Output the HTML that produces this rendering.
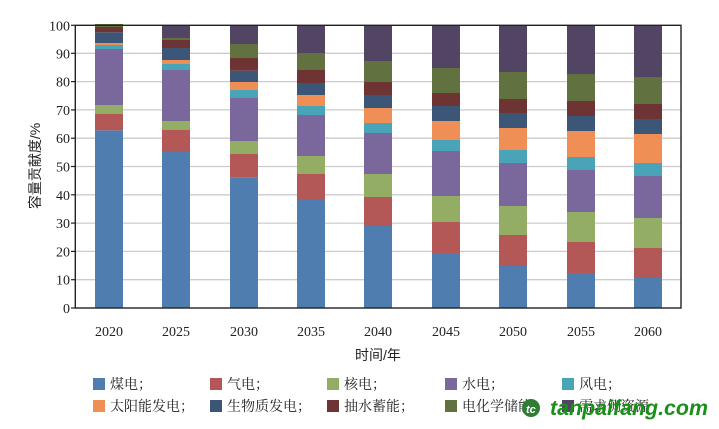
<!DOCTYPE html>
<html><head><meta charset="utf-8"><style>
html,body{margin:0;padding:0;background:#fff;}
svg{display:block;}
.t{font-family:"Liberation Serif","Noto Serif CJK SC",serif;font-size:14px;fill:#222;}
.c{font-family:"Liberation Sans","Noto Sans CJK SC",sans-serif;font-size:14px;fill:#222;}
.l{font-family:"Liberation Serif","Noto Serif CJK SC",serif;font-size:14px;fill:#222;}
</style></head><body>
<svg width="719" height="429" viewBox="0 0 719 429" xmlns="http://www.w3.org/2000/svg">
<rect width="719" height="429" fill="#fff"/>
<!-- gridlines -->
<g stroke="#cccccc" stroke-width="1.3">
<line x1="75" x2="681" y1="279.7" y2="279.7"/>
<line x1="75" x2="681" y1="251.4" y2="251.4"/>
<line x1="75" x2="681" y1="223.1" y2="223.1"/>
<line x1="75" x2="681" y1="194.8" y2="194.8"/>
<line x1="75" x2="681" y1="166.5" y2="166.5"/>
<line x1="75" x2="681" y1="138.2" y2="138.2"/>
<line x1="75" x2="681" y1="109.9" y2="109.9"/>
<line x1="75" x2="681" y1="81.6" y2="81.6"/>
<line x1="75" x2="681" y1="53.3" y2="53.3"/>
</g>
<!-- bars -->
<g>
<!-- 2020 x=95 -->
<rect x="95" y="130.3" width="28" height="177.7" fill="#4F7DB0"/>
<rect x="95" y="114" width="28" height="16.3" fill="#B35757"/>
<rect x="95" y="105" width="28" height="9" fill="#93AE64"/>
<rect x="95" y="49" width="28" height="56" fill="#7A679C"/>
<rect x="95" y="45" width="28" height="4" fill="#49A4B8"/>
<rect x="95" y="43" width="28" height="2" fill="#EF8E55"/>
<rect x="95" y="32.3" width="28" height="10.7" fill="#3B5676"/>
<rect x="95" y="27" width="28" height="5.3" fill="#6E3333"/>
<rect x="95" y="24" width="28" height="3" fill="#617240"/>
<!-- 2025 x=162 -->
<rect x="162" y="151" width="28" height="157" fill="#4F7DB0"/>
<rect x="162" y="130" width="28" height="21" fill="#B35757"/>
<rect x="162" y="121" width="28" height="9" fill="#93AE64"/>
<rect x="162" y="70" width="28" height="51" fill="#7A679C"/>
<rect x="162" y="64" width="28" height="6" fill="#49A4B8"/>
<rect x="162" y="60" width="28" height="4" fill="#EF8E55"/>
<rect x="162" y="48" width="28" height="12" fill="#3B5676"/>
<rect x="162" y="40" width="28" height="8" fill="#6E3333"/>
<rect x="162" y="38" width="28" height="2" fill="#617240"/>
<rect x="162" y="25.3" width="28" height="12.7" fill="#524563"/>
<!-- 2030 x=230 -->
<rect x="230" y="177.3" width="28" height="130.7" fill="#4F7DB0"/>
<rect x="230" y="154" width="28" height="23.3" fill="#B35757"/>
<rect x="230" y="141" width="28" height="13" fill="#93AE64"/>
<rect x="230" y="98" width="28" height="43" fill="#7A679C"/>
<rect x="230" y="90" width="28" height="8" fill="#49A4B8"/>
<rect x="230" y="82" width="28" height="8" fill="#EF8E55"/>
<rect x="230" y="70.7" width="28" height="11.3" fill="#3B5676"/>
<rect x="230" y="58" width="28" height="12.7" fill="#6E3333"/>
<rect x="230" y="44" width="28" height="14" fill="#617240"/>
<rect x="230" y="25.3" width="28" height="18.7" fill="#524563"/>
<!-- 2035 x=297 -->
<rect x="297" y="200" width="28" height="108" fill="#4F7DB0"/>
<rect x="297" y="174" width="28" height="26" fill="#B35757"/>
<rect x="297" y="156" width="28" height="18" fill="#93AE64"/>
<rect x="297" y="115" width="28" height="41" fill="#7A679C"/>
<rect x="297" y="106" width="28" height="9" fill="#49A4B8"/>
<rect x="297" y="95" width="28" height="11" fill="#EF8E55"/>
<rect x="297" y="83" width="28" height="12" fill="#3B5676"/>
<rect x="297" y="70" width="28" height="13" fill="#6E3333"/>
<rect x="297" y="53" width="28" height="17" fill="#617240"/>
<rect x="297" y="25.3" width="28" height="27.7" fill="#524563"/>
<!-- 2040 x=364 -->
<rect x="364" y="226" width="28" height="82" fill="#4F7DB0"/>
<rect x="364" y="197" width="28" height="29" fill="#B35757"/>
<rect x="364" y="174" width="28" height="23" fill="#93AE64"/>
<rect x="364" y="133" width="28" height="41" fill="#7A679C"/>
<rect x="364" y="123" width="28" height="10" fill="#49A4B8"/>
<rect x="364" y="108" width="28" height="15" fill="#EF8E55"/>
<rect x="364" y="95" width="28" height="13" fill="#3B5676"/>
<rect x="364" y="82" width="28" height="13" fill="#6E3333"/>
<rect x="364" y="61" width="28" height="21" fill="#617240"/>
<rect x="364" y="25.3" width="28" height="35.7" fill="#524563"/>
<!-- 2045 x=432 -->
<rect x="432" y="253" width="28" height="55" fill="#4F7DB0"/>
<rect x="432" y="222" width="28" height="31" fill="#B35757"/>
<rect x="432" y="196" width="28" height="26" fill="#93AE64"/>
<rect x="432" y="151" width="28" height="45" fill="#7A679C"/>
<rect x="432" y="140" width="28" height="11" fill="#49A4B8"/>
<rect x="432" y="121" width="28" height="19" fill="#EF8E55"/>
<rect x="432" y="106" width="28" height="15" fill="#3B5676"/>
<rect x="432" y="93" width="28" height="13" fill="#6E3333"/>
<rect x="432" y="68" width="28" height="25" fill="#617240"/>
<rect x="432" y="25.3" width="28" height="42.7" fill="#524563"/>
<!-- 2050 x=499 -->
<rect x="499" y="266" width="28" height="42" fill="#4F7DB0"/>
<rect x="499" y="235" width="28" height="31" fill="#B35757"/>
<rect x="499" y="206" width="28" height="29" fill="#93AE64"/>
<rect x="499" y="163" width="28" height="43" fill="#7A679C"/>
<rect x="499" y="150" width="28" height="13" fill="#49A4B8"/>
<rect x="499" y="128" width="28" height="22" fill="#EF8E55"/>
<rect x="499" y="113" width="28" height="15" fill="#3B5676"/>
<rect x="499" y="99" width="28" height="14" fill="#6E3333"/>
<rect x="499" y="72" width="28" height="27" fill="#617240"/>
<rect x="499" y="25.3" width="28" height="46.7" fill="#524563"/>
<!-- 2055 x=567 -->
<rect x="567" y="273" width="28" height="35" fill="#4F7DB0"/>
<rect x="567" y="242" width="28" height="31" fill="#B35757"/>
<rect x="567" y="212" width="28" height="30" fill="#93AE64"/>
<rect x="567" y="170" width="28" height="42" fill="#7A679C"/>
<rect x="567" y="157" width="28" height="13" fill="#49A4B8"/>
<rect x="567" y="131" width="28" height="26" fill="#EF8E55"/>
<rect x="567" y="116" width="28" height="15" fill="#3B5676"/>
<rect x="567" y="101" width="28" height="15" fill="#6E3333"/>
<rect x="567" y="74" width="28" height="27" fill="#617240"/>
<rect x="567" y="25.3" width="28" height="48.7" fill="#524563"/>
<!-- 2060 x=634 -->
<rect x="634" y="278" width="28" height="30" fill="#4F7DB0"/>
<rect x="634" y="248" width="28" height="30" fill="#B35757"/>
<rect x="634" y="218" width="28" height="30" fill="#93AE64"/>
<rect x="634" y="176" width="28" height="42" fill="#7A679C"/>
<rect x="634" y="163" width="28" height="13" fill="#49A4B8"/>
<rect x="634" y="134" width="28" height="29" fill="#EF8E55"/>
<rect x="634" y="119" width="28" height="15" fill="#3B5676"/>
<rect x="634" y="104" width="28" height="15" fill="#6E3333"/>
<rect x="634" y="77" width="28" height="27" fill="#617240"/>
<rect x="634" y="25.3" width="28" height="51.7" fill="#524563"/>
</g>
<!-- frame -->
<rect x="75.3" y="25.3" width="605.7" height="282.7" fill="none" stroke="#222" stroke-width="1.4"/>
<!-- y ticks -->
<g stroke="#222" stroke-width="1.2">
<line x1="71" x2="75" y1="308" y2="308"/>
<line x1="71" x2="75" y1="279.7" y2="279.7"/>
<line x1="71" x2="75" y1="251.4" y2="251.4"/>
<line x1="71" x2="75" y1="223.1" y2="223.1"/>
<line x1="71" x2="75" y1="194.8" y2="194.8"/>
<line x1="71" x2="75" y1="166.5" y2="166.5"/>
<line x1="71" x2="75" y1="138.2" y2="138.2"/>
<line x1="71" x2="75" y1="109.9" y2="109.9"/>
<line x1="71" x2="75" y1="81.6" y2="81.6"/>
<line x1="71" x2="75" y1="53.3" y2="53.3"/>
<line x1="71" x2="75" y1="25.3" y2="25.3"/>
</g>
<g class="t" text-anchor="end">
<text x="70" y="313">0</text>
<text x="70" y="284.7">10</text>
<text x="70" y="256.4">20</text>
<text x="70" y="228.1">30</text>
<text x="70" y="199.8">40</text>
<text x="70" y="171.5">50</text>
<text x="70" y="143.2">60</text>
<text x="70" y="114.9">70</text>
<text x="70" y="86.6">80</text>
<text x="70" y="58.3">90</text>
<text x="70" y="30.3">100</text>
</g>
<g class="t" text-anchor="middle">
<text x="109" y="336">2020</text>
<text x="176" y="336">2025</text>
<text x="244" y="336">2030</text>
<text x="311" y="336">2035</text>
<text x="378" y="336">2040</text>
<text x="446" y="336">2045</text>
<text x="513" y="336">2050</text>
<text x="581" y="336">2055</text>
<text x="648" y="336">2060</text>
</g>
<text class="c" x="378" y="360" text-anchor="middle">时间/年</text>
<text class="c" transform="translate(40,166) rotate(-90)" text-anchor="middle">容量贡献度/%</text>
<!-- legend -->
<g>
<rect x="93" y="378" width="12" height="12" fill="#4F7DB0"/>
<text class="l" x="110" y="389">煤电；</text>
<rect x="210" y="378" width="12" height="12" fill="#B35757"/>
<text class="l" x="227" y="389">气电；</text>
<rect x="327" y="378" width="12" height="12" fill="#93AE64"/>
<text class="l" x="344" y="389">核电；</text>
<rect x="445" y="378" width="12" height="12" fill="#7A679C"/>
<text class="l" x="462" y="389">水电；</text>
<rect x="562" y="378" width="12" height="12" fill="#49A4B8"/>
<text class="l" x="579" y="389">风电；</text>
<rect x="93" y="400" width="12" height="12" fill="#EF8E55"/>
<text class="l" x="110" y="411">太阳能发电；</text>
<rect x="210" y="400" width="12" height="12" fill="#3B5676"/>
<text class="l" x="227" y="411">生物质发电；</text>
<rect x="327" y="400" width="12" height="12" fill="#6E3333"/>
<text class="l" x="344" y="411">抽水蓄能；</text>
<rect x="445" y="400" width="12" height="12" fill="#617240"/>
<text class="l" x="462" y="411">电化学储能；</text>
<rect x="562" y="400" width="12" height="12" fill="#524563"/>
<text class="l" x="579" y="411">需求侧资源</text>
</g>
<!-- watermark -->
<circle cx="531" cy="408" r="9" fill="#2e7d32"/>
<text x="526" y="413" font-family="Liberation Sans,sans-serif" font-size="11" font-weight="bold" fill="#fff" font-style="italic">tc</text>
<text x="550" y="415" font-family="Liberation Sans,sans-serif" font-size="21" font-weight="bold" font-style="italic" fill="#1a8f1a" textLength="158" lengthAdjust="spacingAndGlyphs">tanpaifang.com</text>
</svg>
</body></html>
